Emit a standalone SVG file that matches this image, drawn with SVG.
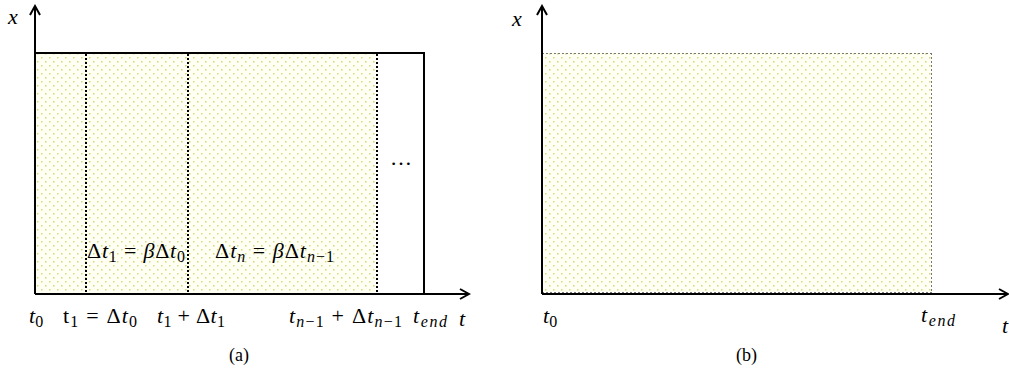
<svg xmlns="http://www.w3.org/2000/svg" width="1009" height="379" viewBox="0 0 1009 379">
<style>
text{font-family:"Liberation Serif","DejaVu Serif",serif;font-size:22px;fill:#000}
.i{font-style:italic}
.s{font-size:16px}
.lb{font-size:18px}
.ax{stroke:#000;stroke-width:2;fill:none}
.dot{stroke:#000;stroke-width:2;stroke-dasharray:2 2;fill:none}
.gd{stroke:#777;stroke-width:1;stroke-dasharray:2 2;fill:none}
</style>
<defs>
<pattern id="pt" width="8" height="8" patternUnits="userSpaceOnUse">
<rect width="8" height="8" fill="#fffff4"/>
<rect x="1" y="1" width="1.5" height="1.5" fill="#d2dc7c"/>
<rect x="5" y="5" width="1.5" height="1.5" fill="#d2dc7c"/>
</pattern>
<marker id="ar" viewBox="0 0 12 12" refX="10" refY="6" markerWidth="12" markerHeight="12" markerUnits="userSpaceOnUse" orient="auto">
<path d="M1,1 L10,6 L1,11" fill="none" stroke="#000" stroke-width="2"/>
</marker>
</defs>
<g id="panel-a">
<rect x="35" y="53" width="342" height="241" fill="url(#pt)"/>
<line class="dot" x1="86" y1="54" x2="86" y2="293"/>
<line class="dot" x1="188" y1="54" x2="188" y2="293"/>
<line class="dot" x1="377" y1="54" x2="377" y2="293"/>
<line class="ax" x1="35" y1="53" x2="425" y2="53"/>
<line class="ax" x1="424" y1="53" x2="424" y2="294"/>
<text x="87" y="258" textLength="98" lengthAdjust="spacing"><tspan>Δ</tspan><tspan class="i">t</tspan><tspan class="s" dy="4">1</tspan><tspan dy="-4"> = </tspan><tspan class="i">β</tspan><tspan>Δ</tspan><tspan class="i">t</tspan><tspan class="s" dy="4">0</tspan></text>
<text x="215" y="258" textLength="119" lengthAdjust="spacing"><tspan>Δ</tspan><tspan class="i">t</tspan><tspan class="s i" dy="4">n</tspan><tspan dy="-4"> = </tspan><tspan class="i">β</tspan><tspan>Δ</tspan><tspan class="i">t</tspan><tspan class="s" dy="4"><tspan class="i">n</tspan>−1</tspan></text>
<text x="390" y="165">…</text>
</g>
<g id="axes-a">
<line class="ax" x1="35" y1="294" x2="35" y2="6" marker-end="url(#ar)"/>
<line class="ax" x1="35" y1="294" x2="469" y2="294" marker-end="url(#ar)"/>
<text class="i" x="8" y="24">x</text>
<text x="29" y="323"><tspan class="i">t</tspan><tspan class="s" dy="4">0</tspan></text>
<text x="63" y="323" textLength="74" lengthAdjust="spacing"><tspan>t</tspan><tspan class="s" dy="4">1</tspan><tspan dy="-4"> = Δ</tspan><tspan class="i">t</tspan><tspan class="s" dy="4">0</tspan></text>
<text x="157" y="323" textLength="68" lengthAdjust="spacing"><tspan class="i">t</tspan><tspan class="s" dy="4">1</tspan><tspan dy="-4"> + Δ</tspan><tspan class="i">t</tspan><tspan class="s" dy="4">1</tspan></text>
<text x="289" y="323" textLength="113" lengthAdjust="spacing"><tspan class="i">t</tspan><tspan class="s" dy="4"><tspan class="i">n</tspan>−1</tspan><tspan dy="-4"> + Δ</tspan><tspan class="i">t</tspan><tspan class="s" dy="4"><tspan class="i">n</tspan>−1</tspan></text>
<text x="413" y="323" textLength="34" lengthAdjust="spacing"><tspan class="i">t</tspan><tspan class="s i" dy="4">end</tspan></text>
<text class="i" x="459" y="326">t</text>
<text class="lb" x="229" y="361">(a)</text>
</g>
<g id="panel-b">
<rect x="542" y="53" width="390" height="241" fill="url(#pt)"/>
<line class="gd" x1="542" y1="53.5" x2="932" y2="53.5"/>
<line class="gd" x1="931.5" y1="53" x2="931.5" y2="293"/>
<line class="gd" x1="542" y1="292.5" x2="932" y2="292.5"/>
</g>
<g id="axes-b">
<line class="ax" x1="542" y1="294" x2="542" y2="6" marker-end="url(#ar)"/>
<line class="ax" x1="542" y1="294" x2="1008" y2="294" marker-end="url(#ar)"/>
<text class="i" x="512" y="26">x</text>
<text x="543" y="323"><tspan class="i">t</tspan><tspan class="s" dy="4">0</tspan></text>
<text x="921" y="322" textLength="34" lengthAdjust="spacing"><tspan class="i">t</tspan><tspan class="s i" dy="4">end</tspan></text>
<text class="i" x="1002" y="333">t</text>
<text class="lb" x="736" y="361">(b)</text>
</g>
</svg>
